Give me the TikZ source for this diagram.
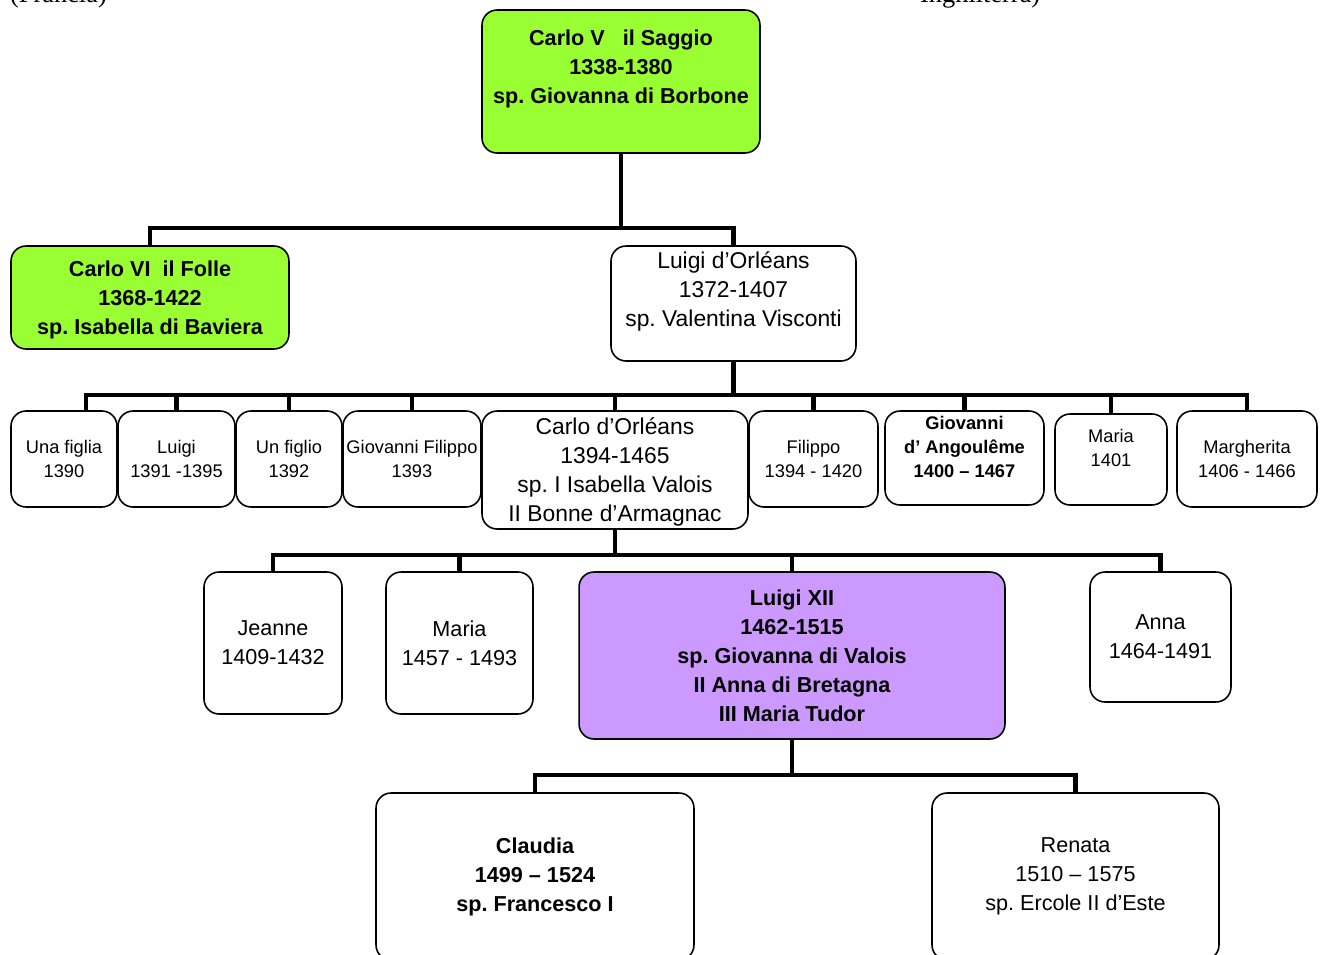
\documentclass[tikz,border=0pt]{standalone}
\usepackage{fontspec}
\setmainfont{Liberation Sans}
\newfontfamily\serifa{Liberation Serif}
\usepackage{tikz}
\frenchspacing

\definecolor{verde}{RGB}{153,255,51}
\definecolor{lilla}{RGB}{204,153,255}

\tikzset{
	box/.style={draw, line width=0.9pt, rounded corners=0.3cm, align=center, inner sep=0pt},
	grande/.style={box, font=\fontsize{13}{16.5}\selectfont},
	medio/.style={box, font=\fontsize{12.3}{16.5}\selectfont},
	grassetto/.style={box, font=\bfseries\fontsize{12.3}{16.5}\selectfont},
	piccolo/.style={box, font=\fontsize{10.4}{13.7}\selectfont},
	piccologr/.style={box, font=\bfseries\fontsize{10.4}{13.7}\selectfont},
	ramo/.style={line width=2.3pt},
}

\begin{document}
\begin{tikzpicture}[x=0.02cm, y=-0.02cm]
				\useasboundingbox (0,0) rectangle (1322,954);
				\clip (0,0) rectangle (1322,954);
				
				% testo tagliato in alto
				\node[font=\serifa\fontsize{15}{18}\selectfont, anchor=base west] (fr) at (4,2) {(Francia)};
				\node[font=\serifa\fontsize{15}{18}\selectfont, anchor=base west] (ing) at (914,2) {Inghilterra)};
				
				% Carlo V e figli
				\node[grassetto, fill=verde, minimum width=5.56cm, minimum height=2.86cm] (cv) at (621,81.5) {Carlo V~~~il Saggio\\1338-1380\\sp. Giovanna di Borbone\\[-5pt] \strut};
				\node[grassetto, fill=verde, minimum width=5.56cm, minimum height=2.06cm] (c6) at (150,297.5) {\strut Carlo VI~~il Folle\\1368-1422\\sp. Isabella di Baviera};
				\node[grande, minimum width=4.9cm, minimum height=2.3cm] (lo) at (733.5,303.5) {Luigi d’Orléans\\1372-1407\\sp. Valentina Visconti\\[-5pt] \strut};
				
				% figli di Luigi d'Orléans
				\node[piccolo, minimum width=2.12cm, minimum height=1.92cm] (f1) at (64,459) {Una figlia\\1390};
				\node[piccolo, minimum width=2.34cm, minimum height=1.92cm] (f2) at (176.5,459) {Luigi\\1391 -1395};
				\node[piccolo, minimum width=2.12cm, minimum height=1.92cm] (f3) at (289,459) {Un figlio\\1392};
				\node[piccolo, minimum width=2.76cm, minimum height=1.92cm] (f4) at (412,459) {Giovanni Filippo\\1393};
				\node[grande, minimum width=5.32cm, minimum height=2.36cm] (co) at (615,470) {\strut Carlo d’Orléans\\1394-1465\\sp. I Isabella Valois\\II Bonne d’Armagnac};
				\node[piccolo, minimum width=2.58cm, minimum height=1.92cm] (f6) at (813.5,459) {Filippo\\1394 - 1420};
				\node[piccologr, minimum width=3.18cm, minimum height=1.88cm] (f7) at (964.5,458) {Giovanni\\d’ Angoulême\\1400 – 1467\\[-5pt] \strut};
				\node[piccolo, minimum width=2.24cm, minimum height=1.82cm] (f8) at (1111,459.5) {Maria\\1401\\[-5pt] \strut};
				\node[piccolo, minimum width=2.8cm, minimum height=1.92cm] (f9) at (1247,459) {Margherita\\1406 - 1466};
				
				% figli di Carlo d'Orléans
				\node[medio, minimum width=2.76cm, minimum height=2.84cm] (g1) at (273,643) {Jeanne\\1409-1432};
				\node[medio, minimum width=2.94cm, minimum height=2.84cm] (g2) at (459.5,643) {Maria\\1457 - 1493};
				\node[grassetto, fill=lilla, minimum width=8.52cm, minimum height=3.34cm] (g3) at (792,655.5) {Luigi XII\\1462-1515\\sp. Giovanna di Valois\\II Anna di Bretagna\\III Maria Tudor};
				\node[medio, minimum width=2.82cm, minimum height=2.6cm] (g4) at (1160.5,637) {Anna\\1464-1491};
				
				% figlie di Luigi XII
				\node[grassetto, minimum width=6.36cm, minimum height=3.34cm] (h1) at (535,876.5) {Claudia\\1499 – 1524\\sp. Francesco I};
				\node[medio, minimum width=5.74cm, minimum height=3.34cm] (h2) at (1075.5,876.5) {Renata\\1510 – 1575\\sp. Ercole II d’Este};
				
				% rami
				\coordinate (n1) at (621,228);
				\draw[ramo] (cv.south) -- (n1);
				\draw[ramo] (c6.north) |- (n1) -| (lo.north);
				
				\coordinate (n2) at (733.5,395);
				\draw[ramo] (lo.south) -- (n2);
				\draw[ramo] ([xshift=0.44cm]f1.north) |- (n2);
				\foreach \f in {f2,f3,f4,co,f6,f7,f8,f9}
					\draw[ramo] (\f.north) |- (n2);
				
				\coordinate (n3) at (615,555);
				\draw[ramo] (co.south) -- (n3);
				\foreach \g in {g1,g2,g3,g4}
					\draw[ramo] (\g.north) |- (n3);
				
				\coordinate (n4) at (792,775);
				\draw[ramo] (g3.south) -- (n4);
				\foreach \h in {h1,h2}
					\draw[ramo] (\h.north) |- (n4);
				
			\end{tikzpicture}
\end{document}
